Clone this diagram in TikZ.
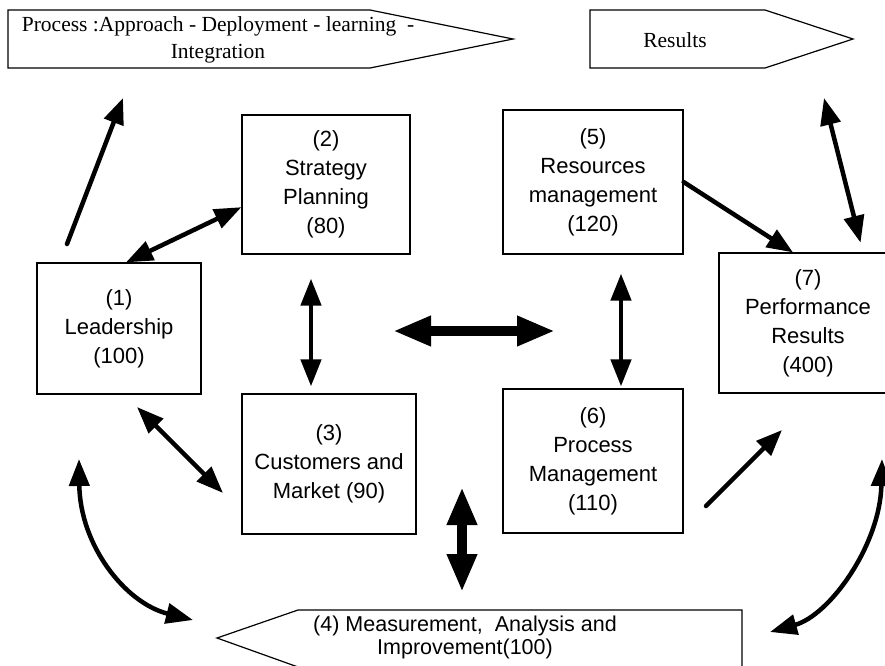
\documentclass[tikz,border=0pt]{standalone}
\usepackage{fontspec}
\setmainfont{Liberation Serif}
\setsansfont{Liberation Sans}
\usetikzlibrary{arrows.meta}

\begin{document}
\begin{tikzpicture}[x=1pt,y=-1pt,
  box/.style={draw,line width=1.2pt,inner sep=0pt,align=center,font=\sffamily\fontsize{22}{29}\selectfont},
  banner/.style={draw,line width=1.2pt},
  bannertext/.style={inner sep=0pt,align=center,font=\fontsize{21.5}{27}\selectfont},
  oneway/.style={line width=4.5pt,line cap=round,-{Triangle[length=26pt,width=20pt]}},
  twoway/.style={line width=4.5pt,{Triangle[length=27pt,width=20pt]}-{Triangle[length=27pt,width=20pt]}},
  bigtwoway/.style={line width=10pt,{Triangle[length=38pt,width=28pt]}-{Triangle[length=38pt,width=28pt]}}]
\useasboundingbox (0,0) rectangle (885,665);
\draw[banner] (8,10) -- (370,10) -- (513,39) -- (370,68) -- (8,68) -- cycle;
\node[bannertext] (approach) at (218,40) {Process :Approach - Deployment - learning \ -\\Integration};
\draw[banner] (590,10) -- (765,10) -- (853,39) -- (765,68) -- (590,68) -- cycle;
\node[bannertext] (results) at (675,40) {Results};
\draw[banner] (298,610) -- (742,610) -- (742,667) -- (298,667) -- (217,638) -- cycle;
\node[inner sep=0pt,align=center,font=\sffamily\fontsize{21.5}{23}\selectfont] (measure) at (465,637) {(4) Measurement,\ \ Analysis and\\Improvement(100)};
\node[box,minimum width=164pt,minimum height=131pt] (lead) at (119,328.5) {(1)\\Leadership\\(100)};
\node[box,minimum width=168pt,minimum height=139pt] (strat) at (326,184.5) {(2)\\Strategy\\Planning\\(80)};
\node[box,minimum width=174pt,minimum height=140pt] (cust) at (329,464) {(3)\\Customers and\\Market (90)};
\node[box,minimum width=180pt,minimum height=144pt] (res) at (593,182) {(5)\\Resources\\management\\(120)};
\node[box,minimum width=180pt,minimum height=144pt] (proc) at (593,461) {(6)\\Process\\Management\\(110)};
\node[box,minimum width=178pt,minimum height=140pt] (perf) at (808,323) {(7)\\Performance\\Results\\(400)};
\coordinate (leadup) at (67,244);
\coordinate (approachdown) at (123,98);
\coordinate (resultsdown) at (824,98);
\coordinate (leaddown) at (137,407);
\coordinate (custleft) at (223,493);
\coordinate (procright) at (706,506);
\coordinate (perfdown) at (782,430);
\coordinate (midleft) at (393,331);
\coordinate (midright) at (555,331);
\coordinate (midtop) at (462,487);
\coordinate (measuretop) at (462,592);
\coordinate (leftup) at (79,459);
\coordinate (leftdown) at (193,620);
\coordinate (rightup) at (882,459);
\coordinate (rightdown) at (770,632);
\draw[oneway] (leadup) -- (approachdown);
\draw[twoway] (lead.84) -- (strat.195);
\draw[twoway,shorten <=24pt,shorten >=7pt] ([xshift=-15pt]strat.south) -- ([xshift=-18pt]cust.north);
\draw[twoway] (leaddown) -- (custleft);
\draw[oneway] (res.east) -- ([xshift=-15pt]perf.north);
\draw[twoway,shorten <=19pt,shorten >=2pt] ([xshift=28pt]res.south) -- ([xshift=28pt]proc.north);
\draw[twoway,shorten >=10pt] (resultsdown) -- ([xshift=55pt]perf.north);
\draw[oneway] (procright) -- (perfdown);
\draw[bigtwoway] (midleft) -- (midright);
\draw[bigtwoway] (midtop) -- (measuretop);
\draw[twoway] (leftup) .. controls (80,545) and (125,603) .. (leftdown);
\draw[twoway] (rightup) .. controls (880,545) and (830,615) .. (rightdown);
\end{tikzpicture}
\end{document}
